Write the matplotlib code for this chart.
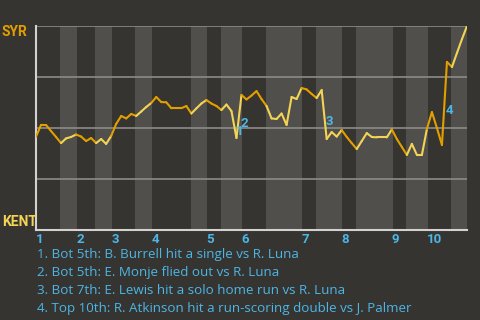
import matplotlib
matplotlib.use("Agg")
import matplotlib.pyplot as plt
from matplotlib.collections import LineCollection
import numpy as np

# ---- data ----
teams = ["SYR", "KENT"]  # top / bottom of the chart
# SYR win probability (%) after each play
win_prob = [45.7, 51.5, 51.5, 48.5, 45.6, 42.6, 44.9, 45.6, 46.8, 45.8,
            43.6, 45.1, 42.6, 44.6, 42.2, 46.1, 52.0, 55.9, 54.7, 56.9,
            55.9, 58.1, 60.3, 62.3, 65.2, 62.7, 62.6, 59.7, 59.7, 59.7,
            60.8, 57.1, 59.6, 62.0, 63.7, 62.0, 60.8, 58.8, 61.5, 58.3,
            45.1, 66.2, 64.0, 65.9, 68.1, 64.2, 60.8, 54.7, 54.4, 57.1,
            51.5, 65.2, 64.2, 69.6, 68.9, 66.7, 64.7, 68.6, 44.6, 48.0,
            45.8, 49.0, 45.6, 42.6, 39.7, 43.6, 47.5, 45.6, 45.4, 45.4,
            45.4, 49.3, 44.6, 40.7, 36.8, 42.2, 36.8, 36.8, 49.5, 57.8,
            50.0, 41.7, 82.4, 79.9, 86.8, 93.6, 100.0]
# number of plays in each half inning (top 1st, bottom 1st, ...)
half_inning_plays = [5, 3, 4, 3, 5, 3, 8, 3, 3, 4, 5, 7, 3, 5, 3, 7, 3, 4, 5, 3]
inning_labels = ["1", "2", "3", "4", "5", "6", "7", "8", "9", "10"]
event_plays = [40, 41, 58, 82]
event_texts = [
    "1. Bot 5th: B. Burrell hit a single vs R. Luna",
    "2. Bot 5th: E. Monje flied out vs R. Luna",
    "3. Bot 7th: E. Lewis hit a solo home run vs R. Luna",
    "4. Top 10th: R. Atkinson hit a run-scoring double vs J. Palmer",
]

# ---- style ----
BG = "#363430"
BAND = "#504f4c"
GRID = "#8c8b88"
AXIS = "#d2d2d0"
ORANGE = "#e39f00"
YELLOW = "#f3d455"
BLUE = "#4cb6e6"
FONT = "Roboto"
TEXT_FONT = "Open Sans"

fig = plt.figure(figsize=(4.8, 3.2), dpi=100, facecolor=BG)
ax = fig.add_axes([36 / 480, 1 - 230 / 320, 431 / 480, 204 / 320])
ax.set_facecolor(BG)

bounds = np.concatenate([[0], np.cumsum(half_inning_plays)])
n = len(win_prob) - 1
ax.set_xlim(0, n)
ax.set_ylim(0, 100)

# half-inning bands (bottom halves lighter)
pad = 0.15
for k in range(len(half_inning_plays)):
    if k % 2 == 1:
        ax.axvspan(bounds[k] - pad, bounds[k + 1] + pad, color=BAND, lw=0, zorder=0)

# gridlines
for g in [25, 50, 75, 100]:
    ax.axhline(g, color=GRID, lw=1.2, zorder=1)

for s in ["top", "right"]:
    ax.spines[s].set_visible(False)
for s in ["left", "bottom"]:
    ax.spines[s].set_color(AXIS)
    ax.spines[s].set_linewidth(1.5)
    ax.spines[s].set_zorder(3)

# line coloured by half inning
x = np.arange(len(win_prob))
pts = np.column_stack([x, win_prob])
segs = np.stack([pts[:-1], pts[1:]], axis=1)
half_idx = np.searchsorted(bounds, x[:-1] + 0.5) - 1
colors = [ORANGE if h % 2 == 0 else YELLOW for h in half_idx]
lc = LineCollection(segs, colors=colors, linewidths=1.5, zorder=4,
                    capstyle="round", joinstyle="round")
ax.add_collection(lc)

# event markers
for i, p in enumerate(event_plays):
    mx = p - 0.5
    my = (win_prob[p - 1] + win_prob[p]) / 2
    ax.annotate(str(i + 1), (mx, my), xytext=(1.2, -5), textcoords="offset points",
                ha="left", va="center", color=BLUE, fontsize=9.5,
                fontweight="bold", family=FONT, zorder=5)

# x ticks at inning starts
ax.set_xticks(bounds[0:-1:2])
ax.set_xticklabels(inning_labels)
ax.tick_params(axis="x", length=0, pad=2.5, colors=BLUE, labelsize=9.5)
for t in ax.get_xticklabels():
    t.set_horizontalalignment("left")
    t.set_fontweight("bold")
    t.set_family(FONT)
ax.set_yticks([])

# team labels
fig.text(2 / 480, 1 - 32.5 / 320, teams[0], color=ORANGE, fontsize=10,
         fontweight="bold", family=FONT, ha="left", va="center")
fig.text(2 / 480, 1 - 221.5 / 320, teams[1], color=YELLOW, fontsize=10,
         fontweight="bold", family=FONT, ha="left", va="center")

# event descriptions
for i, t in enumerate(event_texts):
    fig.text(37 / 480, 1 - (254.5 + 18 * i) / 320, t, color=BLUE, fontsize=9.6,
             family=TEXT_FONT, ha="left", va="center")

fig.savefig("out.png", dpi=100, facecolor=BG)
